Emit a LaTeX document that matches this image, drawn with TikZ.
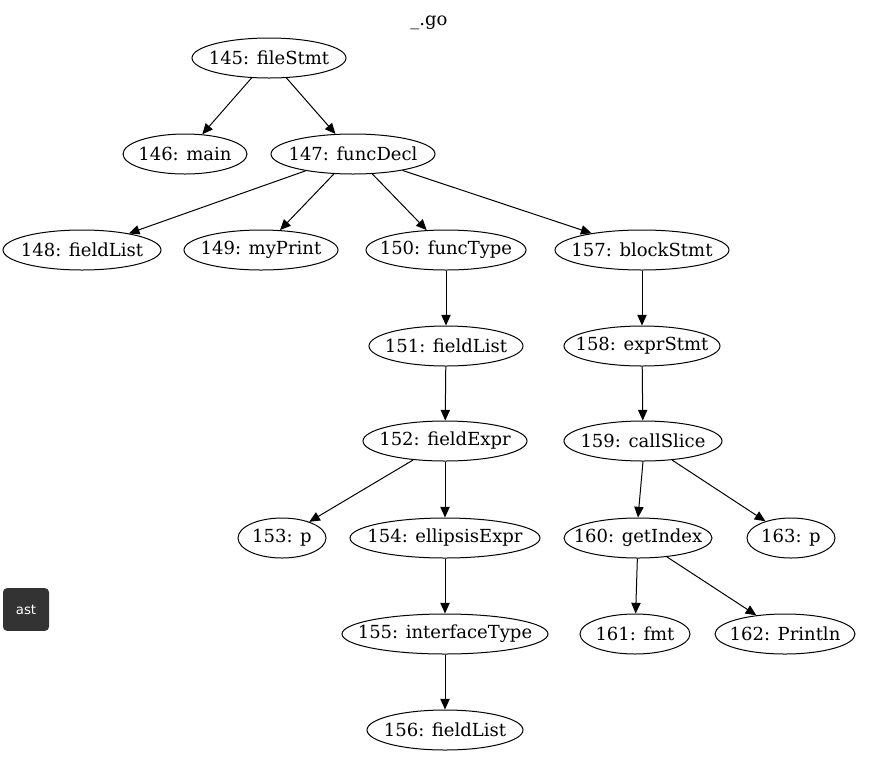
\documentclass[tikz,border=0pt]{standalone}
\usepackage{fontspec}
\setmainfont{DejaVu Serif}
\newfontfamily\tagfont{DejaVu Sans}
\usepackage{tikz}
\usetikzlibrary{shapes.geometric}
\usetikzlibrary{arrows.meta}
\definecolor{tagfill}{HTML}{333333}
\newcommand{\astlabel}[1]{\makebox[0pt]{#1}}

\begin{document}
\begin{tikzpicture}[x=0.75pt, y=-0.75pt, line width=0.75pt,
    astnode/.style={draw, ellipse, inner sep=0pt, minimum height=30pt, font=\fontsize{13.5}{16}\selectfont},
    astedge/.style={-{Triangle[length=8pt, width=7pt]}}]

        \useasboundingbox (0,0) rectangle (871,776);

        \node [font=\fontsize{13.5}{16}\selectfont] (title) at (429,23) {\_.go};

        \node [astnode, minimum width=115.5pt] (n145) at (269,58) {\astlabel{145: fileStmt}};

        \node [astnode, minimum width=93pt] (n146) at (185,154) {\astlabel{146: main}};
        \node [astnode, minimum width=123pt] (n147) at (353,154) {\astlabel{147: funcDecl}};

        \node [astnode, minimum width=118.5pt] (n148) at (82,250) {\astlabel{148: fieldList}};
        \node [astnode, minimum width=115.5pt] (n149) at (261,250) {\astlabel{149: myPrint}};
        \node [astnode, minimum width=120pt] (n150) at (446,250) {\astlabel{150: funcType}};
        \node [astnode, minimum width=130.5pt] (n157) at (642,250) {\astlabel{157: blockStmt}};

        \node [astnode, minimum width=115.5pt] (n151) at (446,346) {\astlabel{151: fieldList}};
        \node [astnode, minimum width=117pt] (n158) at (642,346) {\astlabel{158: exprStmt}};

        \node [astnode, minimum width=123pt] (n152) at (445,441) {\astlabel{152: fieldExpr}};
        \node [astnode, minimum width=118.5pt] (n159) at (643,441) {\astlabel{159: callSlice}};

        \node [astnode, minimum width=66pt] (n153) at (282,538) {\astlabel{153: p}};
        \node [astnode, minimum width=142.5pt] (n154) at (445,538) {\astlabel{154: ellipsisExpr}};
        \node [astnode, minimum width=111pt] (n160) at (638,538) {\astlabel{160: getIndex}};
        \node [astnode, minimum width=66pt] (n163) at (791,538) {\astlabel{163: p}};

        \node [astnode, minimum width=154.5pt] (n155) at (445,634) {\astlabel{155: interfaceType}};
        \node [astnode, minimum width=82.5pt] (n161) at (635,634) {\astlabel{161: fmt}};
        \node [astnode, minimum width=105pt] (n162) at (785,634) {\astlabel{162: Println}};

        \node [astnode, minimum width=117pt] (n156) at (445,730) {\astlabel{156: fieldList}};

        \node [fill=tagfill, rounded corners=3pt, text=white, minimum width=34.5pt, minimum height=32pt, font=\tagfont\fontsize{10}{12}\selectfont] (tag) at (26,609.5) {ast};

        \draw [astedge] (n145) -- (n146);
        \draw [astedge] (n145) -- (n147);
        \draw [astedge] (n147) -- (n148);
        \draw [astedge] (n147) -- (n149);
        \draw [astedge] (n147) -- (n150);
        \draw [astedge] (n147) -- (n157);
        \draw [astedge] (n150) -- (n151);
        \draw [astedge] (n151) -- (n152);
        \draw [astedge] (n152) -- (n153);
        \draw [astedge] (n152) -- (n154);
        \draw [astedge] (n154) -- (n155);
        \draw [astedge] (n155) -- (n156);
        \draw [astedge] (n157) -- (n158);
        \draw [astedge] (n158) -- (n159);
        \draw [astedge] (n159.south) -- (n160.north);
        \draw [astedge] (n159) -- (n163);
        \draw [astedge] (n160) -- (n161);
        \draw [astedge] (n160) -- (n162);

\end{tikzpicture}
\end{document}
